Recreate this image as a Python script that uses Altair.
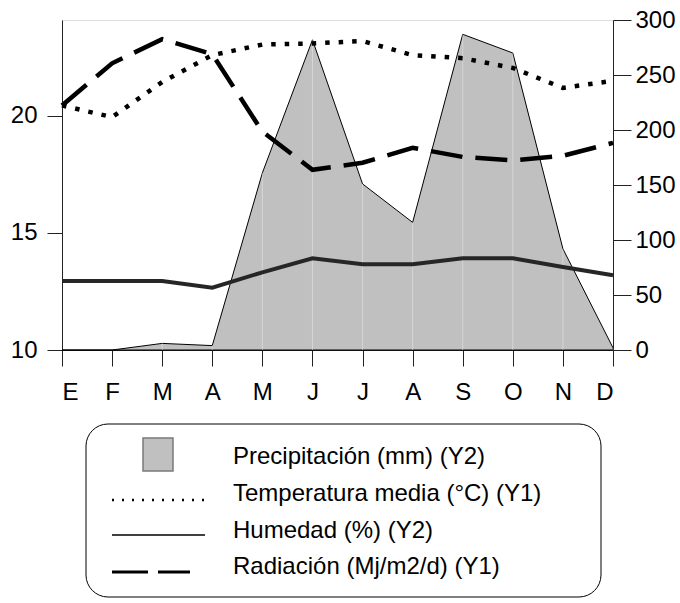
import altair as alt
import pandas as pd

# ---- data ----
months = ["E", "F", "M", "A", "M", "J", "J", "A", "S", "O", "N", "D"]
precip = [0, 0, 6, 4, 161, 282, 151, 116, 287, 270, 92, 2]          # mm (Y2)
temp = [20.45, 19.95, 21.45, 22.6, 23.05, 23.1, 23.2, 22.6, 22.47, 22.05, 21.2, 21.5]  # °C (Y1)
rad = [20.45, 22.25, 23.28, 22.64, 19.33, 17.7, 18.0, 18.64, 18.25, 18.1, 18.3, 18.85]  # Mj/m2/d (Y1)
humid = [62.7, 62.7, 62.7, 56.7, 70.6, 83.4, 78, 78, 83.4, 83.4, 75.5, 68]  # % (Y2)

legend_labels = [
    "Precipitación (mm) (Y2)",
    "Temperatura media (°C) (Y1)",
    "Humedad (%) (Y2)",
    "Radiación (Mj/m2/d) (Y1)",
]

df = pd.DataFrame({
    "idx": list(range(len(months))),
    "mes": months,
    "precip": precip,
    "temp": temp,
    "rad": rad,
    "humid": humid,
})

W, H = 551, 330
FONT = "Liberation Sans"
y1_dom = [10, 24.1]
y2_dom = [0, 300]

label_expr = "[" + ",".join(f"'{m}'" for m in months) + "][datum.value]"

x_enc = alt.X(
    "idx:Q",
    scale=alt.Scale(domain=[0, len(months) - 1], nice=False, zero=False),
    axis=alt.Axis(
        values=list(range(len(months))), labelExpr=label_expr, title=None,
        grid=False, tickSize=16, labelPadding=14, labelFontSize=24,
        domainColor="#222", tickColor="#222", labelColor="black", labelFont=FONT,
    ),
)

base = alt.Chart(df)

area = base.mark_area(fill="#c0c0c0", stroke="black", strokeWidth=1).encode(
    x=x_enc,
    y=alt.Y("precip:Q", scale=alt.Scale(domain=y2_dom, nice=False),
            axis=alt.Axis(orient="right", values=[0, 50, 100, 150, 200, 250, 300],
                          title=None, grid=False, tickSize=18, labelPadding=4,
                          labelFontSize=24, labelFont=FONT, labelColor="black",
                          domainColor="#222", tickColor="#222")),
)

grid = base.mark_rule(color="white", opacity=0.35, strokeWidth=1).encode(
    x=alt.X("idx:Q"),
    y=alt.Y("precip:Q", scale=alt.Scale(domain=y2_dom, nice=False), axis=None),
    y2=alt.Y2Datum(0),
)

hum_line = base.mark_line(color="#262626", strokeWidth=4).encode(
    x=alt.X("idx:Q"),
    y=alt.Y("humid:Q", scale=alt.Scale(domain=y2_dom, nice=False), axis=None),
)

temp_line = base.mark_line(color="black", strokeWidth=4.5, strokeDash=[4.5, 9]).encode(
    x=alt.X("idx:Q"),
    y=alt.Y("temp:Q", scale=alt.Scale(domain=y1_dom, nice=False, zero=False),
            axis=alt.Axis(orient="left", values=[10, 15, 20], title=None, grid=False,
                          tickSize=15, labelPadding=10, labelFontSize=24, labelFont=FONT,
                          labelColor="black", domainColor="#222", tickColor="#222")),
)

rad_line = base.mark_line(color="black", strokeWidth=4.5, strokeDash=[32, 13]).encode(
    x=alt.X("idx:Q"),
    y=alt.Y("rad:Q", scale=alt.Scale(domain=y1_dom, nice=False, zero=False), axis=None),
)

# ---- hand-made legend (layout in pixels relative to plot origin) ----
one = alt.Chart(pd.DataFrame({"k": [0]}))
leg_box = one.mark_rect(fill="white", stroke="black", strokeWidth=1, cornerRadius=22).encode(
    x=alt.value(24), x2=alt.value(539), y=alt.value(404), y2=alt.value(577))
leg_sq = one.mark_rect(fill="#c0c0c0", stroke="#7a7a7a", strokeWidth=1.5).encode(
    x=alt.value(81), x2=alt.value(111), y=alt.value(418), y2=alt.value(451))
leg_dot = one.mark_rule(color="black", strokeWidth=2.5, strokeDash=[2, 8]).encode(
    x=alt.value(50), x2=alt.value(143), y=alt.value(480))
leg_sol = one.mark_rule(color="black", strokeWidth=1.5).encode(
    x=alt.value(50), x2=alt.value(143), y=alt.value(515))
leg_dash = one.mark_rule(color="black", strokeWidth=3, strokeDash=[36, 10]).encode(
    x=alt.value(50), x2=alt.value(128), y=alt.value(552))

text_y = [437, 474, 511, 547]
leg_texts = [
    one.mark_text(align="left", baseline="middle", fontSize=24, font=FONT, color="black").encode(
        x=alt.value(171), y=alt.value(ty), text=alt.value(lbl))
    for lbl, ty in zip(legend_labels, text_y)
]

chart = alt.layer(
    area, grid, hum_line, temp_line, rad_line,
    leg_box, leg_sq, leg_dot, leg_sol, leg_dash, *leg_texts,
).resolve_scale(y="independent").properties(
    width=W, height=H,
    autosize=alt.AutoSizeParams(type="none"),
    padding={"left": 62, "top": 20, "right": 67, "bottom": 253},
    background="white",
).configure_view(stroke="#222", strokeWidth=1).configure(font=FONT)

chart.save("out.html", embed_options={"renderer": "svg", "actions": False})
